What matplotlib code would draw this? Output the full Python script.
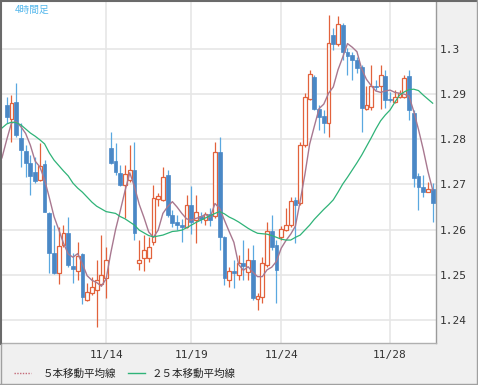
import matplotlib
matplotlib.use('Agg')
import matplotlib.pyplot as plt
import numpy as np
from matplotlib.lines import Line2D

# ---- data (4-hour candles) ----
opens = [1.2876, 1.2845, 1.2883, 1.2803, 1.2774, 1.2748, 1.2728, 1.2710, 1.2745, 1.2637,
         1.2549, 1.2505, 1.2565, 1.2593, 1.2520, 1.2509, 1.2546, 1.2444, 1.2459, 1.2466,
         1.2480, 1.2492, 1.2780, 1.2752, 1.2726, 1.2699, 1.2710, 1.2731, 1.2526, 1.2537,
         1.2537, 1.2573, 1.2668, 1.2666, 1.2721, 1.2632, 1.2617, 1.2610, 1.2606, 1.2655,
         1.2621, 1.2630, 1.2621, 1.2635, 1.2630, 1.2773, 1.2584, 1.2489, 1.2508, 1.2500,
         1.2526, 1.2507, 1.2533, 1.2447, 1.2452, 1.2522, 1.2598, 1.2566, 1.2584, 1.2599,
         1.2610, 1.2666, 1.2658, 1.2787, 1.2889, 1.2939, 1.2867, 1.2852, 1.2836, 1.3031,
         1.3011, 1.3053, 1.2994, 1.2987, 1.2976, 1.2961, 1.2867, 1.2872, 1.2918, 1.2917,
         1.2940, 1.2889, 1.2883, 1.2894, 1.2893, 1.2940, 1.2858, 1.2719, 1.2694, 1.2684,
         1.2689]
highs = [1.2894, 1.2898, 1.2925, 1.2836, 1.2787, 1.2765, 1.2761, 1.2792, 1.2754, 1.2639,
         1.2610, 1.2606, 1.2610, 1.2629, 1.2548, 1.2573, 1.2548, 1.2482, 1.2496, 1.2533,
         1.2588, 1.2562, 1.2817, 1.2792, 1.2743, 1.2743, 1.2787, 1.2795, 1.2577, 1.2588,
         1.2584, 1.2699, 1.2681, 1.2739, 1.2731, 1.2644, 1.2632, 1.2624, 1.2677, 1.2697,
         1.2677, 1.2639, 1.2639, 1.2648, 1.2795, 1.2806, 1.2586, 1.2518, 1.2533, 1.2544,
         1.2577, 1.2559, 1.2566, 1.2460, 1.2540, 1.2618, 1.2632, 1.2577, 1.2608, 1.2648,
         1.2673, 1.2673, 1.2795, 1.2903, 1.2954, 1.2942, 1.2876, 1.2865, 1.3075, 1.3046,
         1.3073, 1.3057, 1.3002, 1.2994, 1.2983, 1.2965, 1.2917, 1.2965, 1.2931, 1.2965,
         1.2954, 1.2905, 1.2909, 1.2909, 1.2942, 1.2954, 1.2865, 1.2725, 1.2721, 1.2706,
         1.2704]
lows = [1.2836, 1.2795, 1.2805, 1.2739, 1.2717, 1.2677, 1.2703, 1.2708, 1.2639, 1.2504,
        1.2502, 1.2480, 1.2562, 1.2518, 1.2482, 1.2489, 1.2435, 1.2441, 1.2455, 1.2385,
        1.2475, 1.2449, 1.2745, 1.2721, 1.2697, 1.2626, 1.2705, 1.2577, 1.2511, 1.2508,
        1.2528, 1.2566, 1.2652, 1.2663, 1.2628, 1.2606, 1.2599, 1.2573, 1.2604, 1.2590,
        1.2570, 1.2615, 1.2610, 1.2608, 1.2626, 1.2555, 1.2477, 1.2474, 1.2471, 1.2489,
        1.2489, 1.2489, 1.2444, 1.2422, 1.2438, 1.2518, 1.2555, 1.2438, 1.2577, 1.2596,
        1.2606, 1.2570, 1.2655, 1.2784, 1.2887, 1.2865, 1.2821, 1.2815, 1.2806, 1.2998,
        1.3007, 1.2976, 1.2942, 1.2931, 1.2947, 1.2817, 1.2865, 1.2865, 1.2909, 1.2867,
        1.2869, 1.2883, 1.2880, 1.2891, 1.2891, 1.2843, 1.2695, 1.2644, 1.2673, 1.2683,
        1.2618]
closes = [1.2849, 1.2881, 1.2810, 1.2776, 1.2748, 1.2719, 1.2708, 1.2741, 1.2640, 1.2548,
          1.2505, 1.2564, 1.2593, 1.2522, 1.2513, 1.2542, 1.2451, 1.2463, 1.2474, 1.2489,
          1.2500, 1.2533, 1.2748, 1.2728, 1.2699, 1.2723, 1.2731, 1.2593, 1.2533, 1.2555,
          1.2562, 1.2670, 1.2675, 1.2717, 1.2632, 1.2615, 1.2610, 1.2606, 1.2655, 1.2617,
          1.2639, 1.2624, 1.2635, 1.2621, 1.2773, 1.2584, 1.2492, 1.2509, 1.2504, 1.2527,
          1.2520, 1.2533, 1.2448, 1.2453, 1.2526, 1.2596, 1.2562, 1.2511, 1.2601, 1.2610,
          1.2664, 1.2655, 1.2787, 1.2893, 1.2945, 1.2867, 1.2850, 1.2837, 1.3014, 1.3011,
          1.3055, 1.2994, 1.2985, 1.2976, 1.2959, 1.2869, 1.2876, 1.2917, 1.2915, 1.2942,
          1.2886, 1.2886, 1.2893, 1.2902, 1.2935, 1.2865, 1.2714, 1.2694, 1.2684, 1.2689,
          1.2660]

# moving averages (first value belongs to the bar before the first shown)
ma5 = [1.2759, 1.2799, 1.2836, 1.2839, 1.2828, 1.2813, 1.2787, 1.2752, 1.2739, 1.2711,
       1.2671, 1.2629, 1.2600, 1.2570, 1.2546, 1.2539, 1.2547, 1.2524, 1.2498, 1.2488,
       1.2483, 1.2475, 1.2491, 1.2549, 1.2600, 1.2642, 1.2686, 1.2726, 1.2695, 1.2656,
       1.2627, 1.2595, 1.2583, 1.2599, 1.2636, 1.2651, 1.2662, 1.2650, 1.2636, 1.2624,
       1.2621, 1.2625, 1.2628, 1.2634, 1.2627, 1.2658, 1.2647, 1.2621, 1.2596, 1.2572,
       1.2523, 1.2510, 1.2518, 1.2506, 1.2496, 1.2496, 1.2511, 1.2517, 1.2530, 1.2559,
       1.2576, 1.2590, 1.2608, 1.2663, 1.2722, 1.2789, 1.2829, 1.2868, 1.2878, 1.2902,
       1.2916, 1.2954, 1.2982, 1.3012, 1.3004, 1.2994, 1.2956, 1.2933, 1.2919, 1.2907,
       1.2904, 1.2907, 1.2909, 1.2904, 1.2902, 1.2900, 1.2896, 1.2862, 1.2822, 1.2778,
       1.2729, 1.2688]
ma25 = [1.2825, 1.2834, 1.2838, 1.2837, 1.2832, 1.2823, 1.2814, 1.2807, 1.2799, 1.2790,
        1.2770, 1.2754, 1.2742, 1.2730, 1.2719, 1.2703, 1.2692, 1.2683, 1.2672, 1.2661,
        1.2652, 1.2646, 1.2640, 1.2638, 1.2636, 1.2629, 1.2624, 1.2617, 1.2610, 1.2599,
        1.2593, 1.2587, 1.2584, 1.2586, 1.2588, 1.2592, 1.2596, 1.2597, 1.2599, 1.2604,
        1.2610, 1.2616, 1.2621, 1.2626, 1.2631, 1.2636, 1.2640, 1.2635, 1.2628, 1.2623,
        1.2617, 1.2610, 1.2603, 1.2597, 1.2592, 1.2591, 1.2590, 1.2587, 1.2583, 1.2579,
        1.2577, 1.2577, 1.2583, 1.2588, 1.2599, 1.2610, 1.2623, 1.2634, 1.2645, 1.2655,
        1.2666, 1.2683, 1.2701, 1.2716, 1.2732, 1.2748, 1.2765, 1.2784, 1.2803, 1.2823,
        1.2841, 1.2854, 1.2865, 1.2882, 1.2898, 1.2905, 1.2910, 1.2911, 1.2908, 1.2898,
        1.2889, 1.2880]

x_tick_bars = [21, 39, 58, 81]
x_tick_labels = ['11/14', '11/19', '11/24', '11/28']
y_ticks = [1.24, 1.25, 1.26, 1.27, 1.28, 1.29, 1.30]
y_tick_labels = ['1.24', '1.25', '1.26', '1.27', '1.28', '1.29', '1.3']
legend_labels = ['５本移動平均線', '２５本移動平均線']
period_label = '4時間足'

UP = '#e2623c'
DOWN = '#4a88c6'
DOWN_WICK = '#5aa8e0'
MA5_C = '#a87890'
MA25_C = '#2fb378'

W, H = 478, 385
fig = plt.figure(figsize=(W / 100, H / 100), dpi=100, facecolor='#f0f0f0')
ax = fig.add_axes([2 / W, 1 - 343 / H, 434 / W, 341 / H])
ax.set_facecolor('white')

n = len(opens)
xs = np.arange(n)
o = np.array(opens); h = np.array(highs); l = np.array(lows); c = np.array(closes)
up = c >= o

# grid
for yv in y_ticks:
    ax.axhline(yv, color='#e6e6e6', lw=1.2, zorder=0)
for xv in x_tick_bars:
    ax.axvline(xv, color='#e6e6e6', lw=1.2, zorder=0)

bw = 0.8
# wicks
ax.vlines(xs[up], l[up], h[up], color=UP, lw=0.9, zorder=2)
ax.vlines(xs[~up], l[~up], h[~up], color=DOWN_WICK, lw=0.9, zorder=2)
# bodies
body_lo = np.minimum(o, c)
body_h = np.maximum(np.abs(c - o), 0.00012)
ax.bar(xs[up], body_h[up], bottom=body_lo[up], width=bw, facecolor='white',
       edgecolor=UP, linewidth=0.9, zorder=3)
ax.bar(xs[~up], body_h[~up], bottom=body_lo[~up], width=bw, facecolor=DOWN,
       edgecolor=DOWN, linewidth=0.5, zorder=3)

# moving averages
xm = np.arange(-1, n)
ax.plot(xm, ma5, color=MA5_C, lw=1.0, zorder=5)
ax.plot(xm, ma25, color=MA25_C, lw=0.9, zorder=5)

ax.set_xlim((2 - 6.7) / 4.733, (436 - 6.7) / 4.733)
ax.set_ylim(1.24 - 23 / 4517, 1.30 + 47 / 4517)

ax.yaxis.tick_right()
ax.set_yticks(y_ticks)
ax.set_yticklabels(y_tick_labels, family='DejaVu Sans Mono', fontsize=8, color='#333333')
ax.set_xticks(x_tick_bars)
ax.set_xticklabels(x_tick_labels, family='DejaVu Sans Mono', fontsize=8, color='#333333')
ax.tick_params(axis='y', length=0, pad=3)
ax.tick_params(axis='x', length=0, pad=5)

for side in ['left', 'top']:
    ax.spines[side].set_visible(False)
ax.spines['right'].set_color('#9a9a9a')
ax.spines['bottom'].set_color('#b0b0b0')
ax.spines['right'].set_linewidth(1.0)
ax.spines['bottom'].set_linewidth(1.0)

ax.text(13 / 434, 1 - 8 / 341, period_label, transform=ax.transAxes, fontsize=7,
        color='#55b8ec', va='center', ha='left',
        family=['Noto Sans CJK JP', 'DejaVu Sans'])

# legend
def fx(px):
    return px / W
def fy(py):
    return 1 - py / H

fig.add_artist(Line2D([fx(14), fx(31)], [fy(373), fy(373)], color='#c46a78', lw=1.0,
                      ls=(0, (1, 1))))
fig.text(fx(43), fy(374), legend_labels[0], fontsize=7.6, color='#222222', va='center',
         ha='left', family=['Noto Sans CJK JP', 'DejaVu Sans'])
fig.add_artist(Line2D([fx(128), fx(145)], [fy(373), fy(373)], color=MA25_C, lw=1.0))
fig.text(fx(152), fy(374), legend_labels[1], fontsize=7.6, color='#222222', va='center',
         ha='left', family=['Noto Sans CJK JP', 'DejaVu Sans'])

# outer frame
fig.add_artist(Line2D([fx(1), fx(1)], [fy(0), fy(344)], color='#6a6a6a', lw=1.5))
fig.add_artist(Line2D([fx(0), fx(478)], [fy(0.7), fy(0.7)], color='#6a6a6a', lw=1.5))
fig.add_artist(Line2D([fx(0.5), fx(0.5)], [fy(344), fy(385)], color='#a0a0a0', lw=1.0))
fig.add_artist(Line2D([fx(476.5), fx(476.5)], [fy(0), fy(384)], color='#a0a0a0', lw=1.0))
fig.add_artist(Line2D([fx(0), fx(477)], [fy(383.5), fy(383.5)], color='#a0a0a0', lw=1.0))

fig.savefig('out.png', dpi=100, facecolor=fig.get_facecolor())
